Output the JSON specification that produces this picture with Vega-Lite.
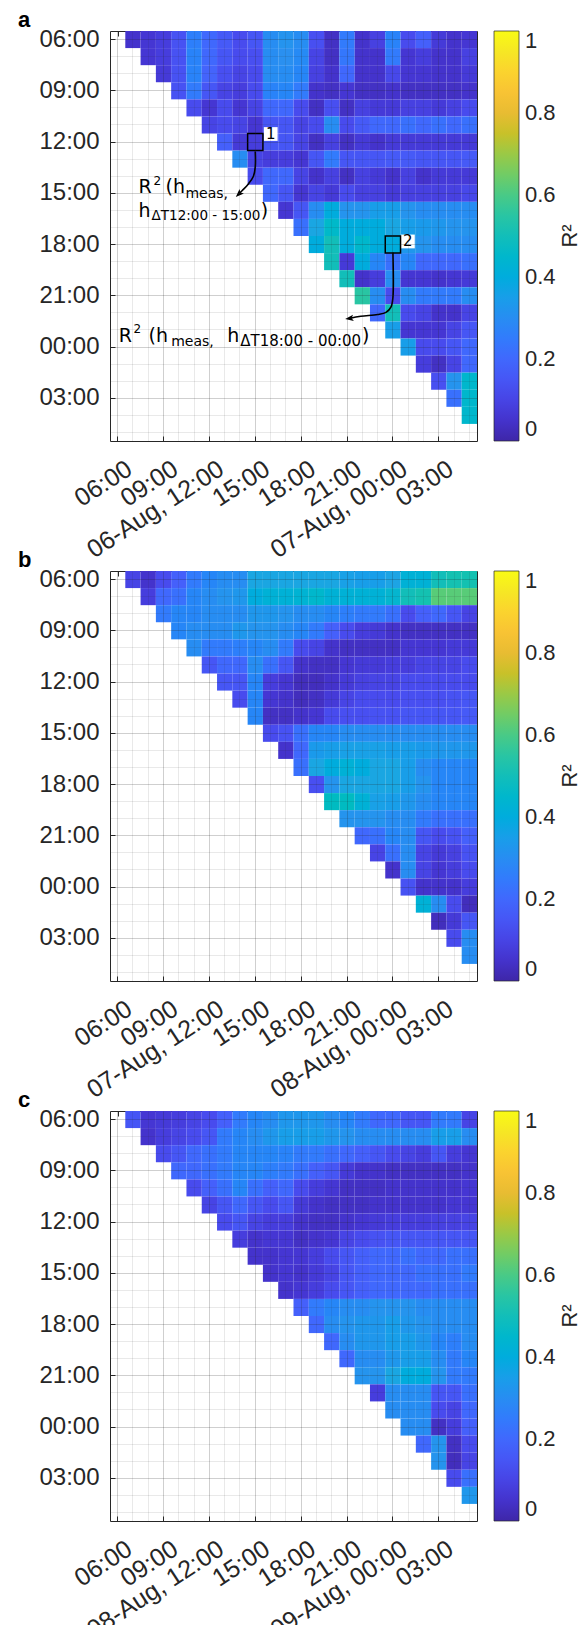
{
"$schema": "https://vega.github.io/schema/vega-lite/v6.json",
"padding": {"left": 17, "top": 8, "right": 4, "bottom": 2},
"background": "white",
"spacing": 130,
"bounds": "flush",
"config": {"font": "Liberation Sans", "view": {"stroke": "#262626", "strokeWidth": 1}, "legend": {"gradientThickness": 25, "gradientLength": 410}},
"resolve": {"scale": {"color": "independent"}, "legend": {"color": "independent"}},
"datasets": {
"a": [
{"s":0,"e":1,"r":0.05},{"s":0,"e":2,"r":0.06},{"s":0,"e":3,"r":0.08},{"s":0,"e":4,"r":0.14},{"s":0,"e":5,"r":0.26},{"s":0,"e":6,"r":0.2},{"s":0,"e":7,"r":0.16},{"s":0,"e":8,"r":0.12},{"s":0,"e":9,"r":0.15},{"s":0,"e":10,"r":0.3},{"s":0,"e":11,"r":0.32},{"s":0,"e":12,"r":0.3},{"s":0,"e":13,"r":0.13},{"s":0,"e":14,"r":0.04},{"s":0,"e":15,"r":0.25},{"s":0,"e":16,"r":0.05},{"s":0,"e":17,"r":0.09},{"s":0,"e":18,"r":0.27},{"s":0,"e":19,"r":0.12},{"s":0,"e":20,"r":0.18},{"s":0,"e":21,"r":0.07},{"s":0,"e":22,"r":0.05},{"s":0,"e":23,"r":0.06},
{"s":1,"e":2,"r":0.06},{"s":1,"e":3,"r":0.08},{"s":1,"e":4,"r":0.14},{"s":1,"e":5,"r":0.27},{"s":1,"e":6,"r":0.2},{"s":1,"e":7,"r":0.15},{"s":1,"e":8,"r":0.12},{"s":1,"e":9,"r":0.13},{"s":1,"e":10,"r":0.3},{"s":1,"e":11,"r":0.31},{"s":1,"e":12,"r":0.29},{"s":1,"e":13,"r":0.1},{"s":1,"e":14,"r":0.04},{"s":1,"e":15,"r":0.24},{"s":1,"e":16,"r":0.05},{"s":1,"e":17,"r":0.05},{"s":1,"e":18,"r":0.25},{"s":1,"e":19,"r":0.06},{"s":1,"e":20,"r":0.08},{"s":1,"e":21,"r":0.05},{"s":1,"e":22,"r":0.05},{"s":1,"e":23,"r":0.09},
{"s":2,"e":3,"r":0.07},{"s":2,"e":4,"r":0.14},{"s":2,"e":5,"r":0.27},{"s":2,"e":6,"r":0.19},{"s":2,"e":7,"r":0.13},{"s":2,"e":8,"r":0.1},{"s":2,"e":9,"r":0.12},{"s":2,"e":10,"r":0.3},{"s":2,"e":11,"r":0.3},{"s":2,"e":12,"r":0.28},{"s":2,"e":13,"r":0.09},{"s":2,"e":14,"r":0.05},{"s":2,"e":15,"r":0.2},{"s":2,"e":16,"r":0.05},{"s":2,"e":17,"r":0.05},{"s":2,"e":18,"r":0.11},{"s":2,"e":19,"r":0.06},{"s":2,"e":20,"r":0.06},{"s":2,"e":21,"r":0.05},{"s":2,"e":22,"r":0.05},{"s":2,"e":23,"r":0.07},
{"s":3,"e":4,"r":0.14},{"s":3,"e":5,"r":0.25},{"s":3,"e":6,"r":0.15},{"s":3,"e":7,"r":0.1},{"s":3,"e":8,"r":0.08},{"s":3,"e":9,"r":0.12},{"s":3,"e":10,"r":0.27},{"s":3,"e":11,"r":0.28},{"s":3,"e":12,"r":0.25},{"s":3,"e":13,"r":0.05},{"s":3,"e":14,"r":0.04},{"s":3,"e":15,"r":0.06},{"s":3,"e":16,"r":0.04},{"s":3,"e":17,"r":0.04},{"s":3,"e":18,"r":0.05},{"s":3,"e":19,"r":0.04},{"s":3,"e":20,"r":0.04},{"s":3,"e":21,"r":0.04},{"s":3,"e":22,"r":0.04},{"s":3,"e":23,"r":0.05},
{"s":4,"e":5,"r":0.12},{"s":4,"e":6,"r":0.06},{"s":4,"e":7,"r":0.12},{"s":4,"e":8,"r":0.06},{"s":4,"e":9,"r":0.1},{"s":4,"e":10,"r":0.2},{"s":4,"e":11,"r":0.2},{"s":4,"e":12,"r":0.12},{"s":4,"e":13,"r":0.04},{"s":4,"e":14,"r":0.13},{"s":4,"e":15,"r":0.04},{"s":4,"e":16,"r":0.09},{"s":4,"e":17,"r":0.07},{"s":4,"e":18,"r":0.07},{"s":4,"e":19,"r":0.09},{"s":4,"e":20,"r":0.09},{"s":4,"e":21,"r":0.07},{"s":4,"e":22,"r":0.09},{"s":4,"e":23,"r":0.12},
{"s":5,"e":6,"r":0.1},{"s":5,"e":7,"r":0.12},{"s":5,"e":8,"r":0.1},{"s":5,"e":9,"r":0.06},{"s":5,"e":10,"r":0.15},{"s":5,"e":11,"r":0.15},{"s":5,"e":12,"r":0.1},{"s":5,"e":13,"r":0.12},{"s":5,"e":14,"r":0.3},{"s":5,"e":15,"r":0.12},{"s":5,"e":16,"r":0.16},{"s":5,"e":17,"r":0.2},{"s":5,"e":18,"r":0.2},{"s":5,"e":19,"r":0.22},{"s":5,"e":20,"r":0.2},{"s":5,"e":21,"r":0.22},{"s":5,"e":22,"r":0.2},{"s":5,"e":23,"r":0.22},
{"s":6,"e":7,"r":0.18},{"s":6,"e":8,"r":0.07},{"s":6,"e":9,"r":0.08},{"s":6,"e":10,"r":0.15},{"s":6,"e":11,"r":0.15},{"s":6,"e":12,"r":0.1},{"s":6,"e":13,"r":0.04},{"s":6,"e":14,"r":0.09},{"s":6,"e":15,"r":0.04},{"s":6,"e":16,"r":0.07},{"s":6,"e":17,"r":0.05},{"s":6,"e":18,"r":0.07},{"s":6,"e":19,"r":0.07},{"s":6,"e":20,"r":0.07},{"s":6,"e":21,"r":0.07},{"s":6,"e":22,"r":0.07},{"s":6,"e":23,"r":0.07},
{"s":7,"e":8,"r":0.3},{"s":7,"e":9,"r":0.1},{"s":7,"e":10,"r":0.08},{"s":7,"e":11,"r":0.08},{"s":7,"e":12,"r":0.06},{"s":7,"e":13,"r":0.15},{"s":7,"e":14,"r":0.25},{"s":7,"e":15,"r":0.15},{"s":7,"e":16,"r":0.15},{"s":7,"e":17,"r":0.15},{"s":7,"e":18,"r":0.16},{"s":7,"e":19,"r":0.16},{"s":7,"e":20,"r":0.15},{"s":7,"e":21,"r":0.15},{"s":7,"e":22,"r":0.15},{"s":7,"e":23,"r":0.16},
{"s":8,"e":9,"r":0.12},{"s":8,"e":10,"r":0.2},{"s":8,"e":11,"r":0.2},{"s":8,"e":12,"r":0.1},{"s":8,"e":13,"r":0.05},{"s":8,"e":14,"r":0.09},{"s":8,"e":15,"r":0.04},{"s":8,"e":16,"r":0.09},{"s":8,"e":17,"r":0.07},{"s":8,"e":18,"r":0.05},{"s":8,"e":19,"r":0.09},{"s":8,"e":20,"r":0.05},{"s":8,"e":21,"r":0.07},{"s":8,"e":22,"r":0.07},{"s":8,"e":23,"r":0.07},
{"s":9,"e":10,"r":0.2},{"s":9,"e":11,"r":0.15},{"s":9,"e":12,"r":0.06},{"s":9,"e":13,"r":0.1},{"s":9,"e":14,"r":0.07},{"s":9,"e":15,"r":0.12},{"s":9,"e":16,"r":0.09},{"s":9,"e":17,"r":0.09},{"s":9,"e":18,"r":0.07},{"s":9,"e":19,"r":0.09},{"s":9,"e":20,"r":0.09},{"s":9,"e":21,"r":0.09},{"s":9,"e":22,"r":0.09},{"s":9,"e":23,"r":0.11},
{"s":10,"e":11,"r":0.06},{"s":10,"e":12,"r":0.15},{"s":10,"e":13,"r":0.3},{"s":10,"e":14,"r":0.4},{"s":10,"e":15,"r":0.32},{"s":10,"e":16,"r":0.32},{"s":10,"e":17,"r":0.35},{"s":10,"e":18,"r":0.35},{"s":10,"e":19,"r":0.32},{"s":10,"e":20,"r":0.3},{"s":10,"e":21,"r":0.3},{"s":10,"e":22,"r":0.3},{"s":10,"e":23,"r":0.3},
{"s":11,"e":12,"r":0.22},{"s":11,"e":13,"r":0.38},{"s":11,"e":14,"r":0.46},{"s":11,"e":15,"r":0.4},{"s":11,"e":16,"r":0.4},{"s":11,"e":17,"r":0.4},{"s":11,"e":18,"r":0.38},{"s":11,"e":19,"r":0.35},{"s":11,"e":20,"r":0.34},{"s":11,"e":21,"r":0.33},{"s":11,"e":22,"r":0.32},{"s":11,"e":23,"r":0.32},
{"s":12,"e":13,"r":0.4},{"s":12,"e":14,"r":0.5},{"s":12,"e":15,"r":0.4},{"s":12,"e":16,"r":0.45},{"s":12,"e":17,"r":0.4},{"s":12,"e":18,"r":0.4},{"s":12,"e":19,"r":0.33},{"s":12,"e":20,"r":0.32},{"s":12,"e":21,"r":0.3},{"s":12,"e":22,"r":0.3},{"s":12,"e":23,"r":0.3},
{"s":13,"e":14,"r":0.5},{"s":13,"e":15,"r":0.07},{"s":13,"e":16,"r":0.4},{"s":13,"e":17,"r":0.28},{"s":13,"e":18,"r":0.22},{"s":13,"e":19,"r":0.28},{"s":13,"e":20,"r":0.2},{"s":13,"e":21,"r":0.2},{"s":13,"e":22,"r":0.2},{"s":13,"e":23,"r":0.22},
{"s":14,"e":15,"r":0.5},{"s":14,"e":16,"r":0.05},{"s":14,"e":17,"r":0.08},{"s":14,"e":18,"r":0.3},{"s":14,"e":19,"r":0.06},{"s":14,"e":20,"r":0.06},{"s":14,"e":21,"r":0.05},{"s":14,"e":22,"r":0.06},{"s":14,"e":23,"r":0.07},
{"s":15,"e":16,"r":0.55},{"s":15,"e":17,"r":0.3},{"s":15,"e":18,"r":0.12},{"s":15,"e":19,"r":0.3},{"s":15,"e":20,"r":0.25},{"s":15,"e":21,"r":0.25},{"s":15,"e":22,"r":0.25},{"s":15,"e":23,"r":0.3},
{"s":16,"e":17,"r":0.2},{"s":16,"e":18,"r":0.5},{"s":16,"e":19,"r":0.12},{"s":16,"e":20,"r":0.1},{"s":16,"e":21,"r":0.05},{"s":16,"e":22,"r":0.05},{"s":16,"e":23,"r":0.1},
{"s":17,"e":18,"r":0.35},{"s":17,"e":19,"r":0.06},{"s":17,"e":20,"r":0.06},{"s":17,"e":21,"r":0.06},{"s":17,"e":22,"r":0.1},{"s":17,"e":23,"r":0.15},
{"s":18,"e":19,"r":0.35},{"s":18,"e":20,"r":0.12},{"s":18,"e":21,"r":0.12},{"s":18,"e":22,"r":0.15},{"s":18,"e":23,"r":0.2},
{"s":19,"e":20,"r":0.08},{"s":19,"e":21,"r":0.04},{"s":19,"e":22,"r":0.1},{"s":19,"e":23,"r":0.2},
{"s":20,"e":21,"r":0.13},{"s":20,"e":22,"r":0.32},{"s":20,"e":23,"r":0.45},
{"s":21,"e":22,"r":0.22},{"s":21,"e":23,"r":0.45},
{"s":22,"e":23,"r":0.45}
],
"b": [
{"s":0,"e":1,"r":0.1},{"s":0,"e":2,"r":0.05},{"s":0,"e":3,"r":0.12},{"s":0,"e":4,"r":0.18},{"s":0,"e":5,"r":0.25},{"s":0,"e":6,"r":0.28},{"s":0,"e":7,"r":0.3},{"s":0,"e":8,"r":0.3},{"s":0,"e":9,"r":0.38},{"s":0,"e":10,"r":0.38},{"s":0,"e":11,"r":0.38},{"s":0,"e":12,"r":0.38},{"s":0,"e":13,"r":0.38},{"s":0,"e":14,"r":0.38},{"s":0,"e":15,"r":0.36},{"s":0,"e":16,"r":0.35},{"s":0,"e":17,"r":0.35},{"s":0,"e":18,"r":0.37},{"s":0,"e":19,"r":0.42},{"s":0,"e":20,"r":0.42},{"s":0,"e":21,"r":0.5},{"s":0,"e":22,"r":0.52},{"s":0,"e":23,"r":0.52},
{"s":1,"e":2,"r":0.08},{"s":1,"e":3,"r":0.2},{"s":1,"e":4,"r":0.22},{"s":1,"e":5,"r":0.28},{"s":1,"e":6,"r":0.3},{"s":1,"e":7,"r":0.32},{"s":1,"e":8,"r":0.33},{"s":1,"e":9,"r":0.4},{"s":1,"e":10,"r":0.42},{"s":1,"e":11,"r":0.42},{"s":1,"e":12,"r":0.43},{"s":1,"e":13,"r":0.45},{"s":1,"e":14,"r":0.42},{"s":1,"e":15,"r":0.42},{"s":1,"e":16,"r":0.42},{"s":1,"e":17,"r":0.42},{"s":1,"e":18,"r":0.44},{"s":1,"e":19,"r":0.5},{"s":1,"e":20,"r":0.52},{"s":1,"e":21,"r":0.62},{"s":1,"e":22,"r":0.62},{"s":1,"e":23,"r":0.62},
{"s":2,"e":3,"r":0.25},{"s":2,"e":4,"r":0.28},{"s":2,"e":5,"r":0.28},{"s":2,"e":6,"r":0.3},{"s":2,"e":7,"r":0.3},{"s":2,"e":8,"r":0.3},{"s":2,"e":9,"r":0.33},{"s":2,"e":10,"r":0.33},{"s":2,"e":11,"r":0.32},{"s":2,"e":12,"r":0.3},{"s":2,"e":13,"r":0.3},{"s":2,"e":14,"r":0.28},{"s":2,"e":15,"r":0.26},{"s":2,"e":16,"r":0.25},{"s":2,"e":17,"r":0.25},{"s":2,"e":18,"r":0.22},{"s":2,"e":19,"r":0.12},{"s":2,"e":20,"r":0.18},{"s":2,"e":21,"r":0.2},{"s":2,"e":22,"r":0.15},{"s":2,"e":23,"r":0.1},
{"s":3,"e":4,"r":0.28},{"s":3,"e":5,"r":0.3},{"s":3,"e":6,"r":0.3},{"s":3,"e":7,"r":0.3},{"s":3,"e":8,"r":0.33},{"s":3,"e":9,"r":0.32},{"s":3,"e":10,"r":0.32},{"s":3,"e":11,"r":0.3},{"s":3,"e":12,"r":0.28},{"s":3,"e":13,"r":0.25},{"s":3,"e":14,"r":0.18},{"s":3,"e":15,"r":0.12},{"s":3,"e":16,"r":0.08},{"s":3,"e":17,"r":0.07},{"s":3,"e":18,"r":0.05},{"s":3,"e":19,"r":0.04},{"s":3,"e":20,"r":0.04},{"s":3,"e":21,"r":0.04},{"s":3,"e":22,"r":0.04},{"s":3,"e":23,"r":0.04},
{"s":4,"e":5,"r":0.3},{"s":4,"e":6,"r":0.25},{"s":4,"e":7,"r":0.25},{"s":4,"e":8,"r":0.26},{"s":4,"e":9,"r":0.28},{"s":4,"e":10,"r":0.3},{"s":4,"e":11,"r":0.25},{"s":4,"e":12,"r":0.12},{"s":4,"e":13,"r":0.1},{"s":4,"e":14,"r":0.05},{"s":4,"e":15,"r":0.04},{"s":4,"e":16,"r":0.04},{"s":4,"e":17,"r":0.04},{"s":4,"e":18,"r":0.04},{"s":4,"e":19,"r":0.06},{"s":4,"e":20,"r":0.06},{"s":4,"e":21,"r":0.06},{"s":4,"e":22,"r":0.07},{"s":4,"e":23,"r":0.07},
{"s":5,"e":6,"r":0.15},{"s":5,"e":7,"r":0.2},{"s":5,"e":8,"r":0.2},{"s":5,"e":9,"r":0.3},{"s":5,"e":10,"r":0.22},{"s":5,"e":11,"r":0.15},{"s":5,"e":12,"r":0.05},{"s":5,"e":13,"r":0.04},{"s":5,"e":14,"r":0.04},{"s":5,"e":15,"r":0.06},{"s":5,"e":16,"r":0.07},{"s":5,"e":17,"r":0.07},{"s":5,"e":18,"r":0.08},{"s":5,"e":19,"r":0.08},{"s":5,"e":20,"r":0.1},{"s":5,"e":21,"r":0.1},{"s":5,"e":22,"r":0.1},{"s":5,"e":23,"r":0.12},
{"s":6,"e":7,"r":0.15},{"s":6,"e":8,"r":0.15},{"s":6,"e":9,"r":0.28},{"s":6,"e":10,"r":0.08},{"s":6,"e":11,"r":0.06},{"s":6,"e":12,"r":0.03},{"s":6,"e":13,"r":0.03},{"s":6,"e":14,"r":0.05},{"s":6,"e":15,"r":0.07},{"s":6,"e":16,"r":0.09},{"s":6,"e":17,"r":0.1},{"s":6,"e":18,"r":0.1},{"s":6,"e":19,"r":0.12},{"s":6,"e":20,"r":0.12},{"s":6,"e":21,"r":0.12},{"s":6,"e":22,"r":0.12},{"s":6,"e":23,"r":0.12},
{"s":7,"e":8,"r":0.12},{"s":7,"e":9,"r":0.28},{"s":7,"e":10,"r":0.06},{"s":7,"e":11,"r":0.05},{"s":7,"e":12,"r":0.03},{"s":7,"e":13,"r":0.04},{"s":7,"e":14,"r":0.07},{"s":7,"e":15,"r":0.1},{"s":7,"e":16,"r":0.12},{"s":7,"e":17,"r":0.12},{"s":7,"e":18,"r":0.12},{"s":7,"e":19,"r":0.13},{"s":7,"e":20,"r":0.13},{"s":7,"e":21,"r":0.13},{"s":7,"e":22,"r":0.14},{"s":7,"e":23,"r":0.15},
{"s":8,"e":9,"r":0.28},{"s":8,"e":10,"r":0.04},{"s":8,"e":11,"r":0.04},{"s":8,"e":12,"r":0.05},{"s":8,"e":13,"r":0.06},{"s":8,"e":14,"r":0.12},{"s":8,"e":15,"r":0.13},{"s":8,"e":16,"r":0.13},{"s":8,"e":17,"r":0.14},{"s":8,"e":18,"r":0.14},{"s":8,"e":19,"r":0.15},{"s":8,"e":20,"r":0.15},{"s":8,"e":21,"r":0.15},{"s":8,"e":22,"r":0.15},{"s":8,"e":23,"r":0.16},
{"s":9,"e":10,"r":0.12},{"s":9,"e":11,"r":0.14},{"s":9,"e":12,"r":0.22},{"s":9,"e":13,"r":0.28},{"s":9,"e":14,"r":0.28},{"s":9,"e":15,"r":0.3},{"s":9,"e":16,"r":0.3},{"s":9,"e":17,"r":0.3},{"s":9,"e":18,"r":0.3},{"s":9,"e":19,"r":0.3},{"s":9,"e":20,"r":0.3},{"s":9,"e":21,"r":0.3},{"s":9,"e":22,"r":0.3},{"s":9,"e":23,"r":0.3},
{"s":10,"e":11,"r":0.05},{"s":10,"e":12,"r":0.2},{"s":10,"e":13,"r":0.34},{"s":10,"e":14,"r":0.35},{"s":10,"e":15,"r":0.36},{"s":10,"e":16,"r":0.36},{"s":10,"e":17,"r":0.36},{"s":10,"e":18,"r":0.35},{"s":10,"e":19,"r":0.35},{"s":10,"e":20,"r":0.34},{"s":10,"e":21,"r":0.33},{"s":10,"e":22,"r":0.33},{"s":10,"e":23,"r":0.33},
{"s":11,"e":12,"r":0.22},{"s":11,"e":13,"r":0.38},{"s":11,"e":14,"r":0.4},{"s":11,"e":15,"r":0.42},{"s":11,"e":16,"r":0.4},{"s":11,"e":17,"r":0.38},{"s":11,"e":18,"r":0.38},{"s":11,"e":19,"r":0.35},{"s":11,"e":20,"r":0.3},{"s":11,"e":21,"r":0.28},{"s":11,"e":22,"r":0.28},{"s":11,"e":23,"r":0.28},
{"s":12,"e":13,"r":0.13},{"s":12,"e":14,"r":0.32},{"s":12,"e":15,"r":0.38},{"s":12,"e":16,"r":0.38},{"s":12,"e":17,"r":0.38},{"s":12,"e":18,"r":0.38},{"s":12,"e":19,"r":0.35},{"s":12,"e":20,"r":0.32},{"s":12,"e":21,"r":0.28},{"s":12,"e":22,"r":0.28},{"s":12,"e":23,"r":0.28},
{"s":13,"e":14,"r":0.48},{"s":13,"e":15,"r":0.48},{"s":13,"e":16,"r":0.42},{"s":13,"e":17,"r":0.36},{"s":13,"e":18,"r":0.35},{"s":13,"e":19,"r":0.33},{"s":13,"e":20,"r":0.3},{"s":13,"e":21,"r":0.28},{"s":13,"e":22,"r":0.28},{"s":13,"e":23,"r":0.28},
{"s":14,"e":15,"r":0.32},{"s":14,"e":16,"r":0.32},{"s":14,"e":17,"r":0.32},{"s":14,"e":18,"r":0.3},{"s":14,"e":19,"r":0.3},{"s":14,"e":20,"r":0.25},{"s":14,"e":21,"r":0.22},{"s":14,"e":22,"r":0.22},{"s":14,"e":23,"r":0.22},
{"s":15,"e":16,"r":0.2},{"s":15,"e":17,"r":0.22},{"s":15,"e":18,"r":0.28},{"s":15,"e":19,"r":0.3},{"s":15,"e":20,"r":0.15},{"s":15,"e":21,"r":0.12},{"s":15,"e":22,"r":0.14},{"s":15,"e":23,"r":0.18},
{"s":16,"e":17,"r":0.1},{"s":16,"e":18,"r":0.22},{"s":16,"e":19,"r":0.3},{"s":16,"e":20,"r":0.1},{"s":16,"e":21,"r":0.07},{"s":16,"e":22,"r":0.09},{"s":16,"e":23,"r":0.14},
{"s":17,"e":18,"r":0.05},{"s":17,"e":19,"r":0.3},{"s":17,"e":20,"r":0.1},{"s":17,"e":21,"r":0.06},{"s":17,"e":22,"r":0.08},{"s":17,"e":23,"r":0.12},
{"s":18,"e":19,"r":0.14},{"s":18,"e":20,"r":0.05},{"s":18,"e":21,"r":0.05},{"s":18,"e":22,"r":0.05},{"s":18,"e":23,"r":0.08},
{"s":19,"e":20,"r":0.42},{"s":19,"e":21,"r":0.3},{"s":19,"e":22,"r":0.12},{"s":19,"e":23,"r":0.03},
{"s":20,"e":21,"r":0.03},{"s":20,"e":22,"r":0.07},{"s":20,"e":23,"r":0.15},
{"s":21,"e":22,"r":0.12},{"s":21,"e":23,"r":0.3},
{"s":22,"e":23,"r":0.3}
],
"c": [
{"s":0,"e":1,"r":0.15},{"s":0,"e":2,"r":0.06},{"s":0,"e":3,"r":0.07},{"s":0,"e":4,"r":0.08},{"s":0,"e":5,"r":0.1},{"s":0,"e":6,"r":0.12},{"s":0,"e":7,"r":0.18},{"s":0,"e":8,"r":0.25},{"s":0,"e":9,"r":0.28},{"s":0,"e":10,"r":0.3},{"s":0,"e":11,"r":0.33},{"s":0,"e":12,"r":0.33},{"s":0,"e":13,"r":0.33},{"s":0,"e":14,"r":0.3},{"s":0,"e":15,"r":0.28},{"s":0,"e":16,"r":0.25},{"s":0,"e":17,"r":0.2},{"s":0,"e":18,"r":0.2},{"s":0,"e":19,"r":0.15},{"s":0,"e":20,"r":0.15},{"s":0,"e":21,"r":0.25},{"s":0,"e":22,"r":0.25},{"s":0,"e":23,"r":0.1},
{"s":1,"e":2,"r":0.05},{"s":1,"e":3,"r":0.08},{"s":1,"e":4,"r":0.1},{"s":1,"e":5,"r":0.12},{"s":1,"e":6,"r":0.15},{"s":1,"e":7,"r":0.25},{"s":1,"e":8,"r":0.28},{"s":1,"e":9,"r":0.3},{"s":1,"e":10,"r":0.33},{"s":1,"e":11,"r":0.35},{"s":1,"e":12,"r":0.35},{"s":1,"e":13,"r":0.35},{"s":1,"e":14,"r":0.33},{"s":1,"e":15,"r":0.32},{"s":1,"e":16,"r":0.3},{"s":1,"e":17,"r":0.3},{"s":1,"e":18,"r":0.3},{"s":1,"e":19,"r":0.3},{"s":1,"e":20,"r":0.3},{"s":1,"e":21,"r":0.35},{"s":1,"e":22,"r":0.35},{"s":1,"e":23,"r":0.3},
{"s":2,"e":3,"r":0.12},{"s":2,"e":4,"r":0.15},{"s":2,"e":5,"r":0.2},{"s":2,"e":6,"r":0.22},{"s":2,"e":7,"r":0.25},{"s":2,"e":8,"r":0.28},{"s":2,"e":9,"r":0.28},{"s":2,"e":10,"r":0.28},{"s":2,"e":11,"r":0.27},{"s":2,"e":12,"r":0.25},{"s":2,"e":13,"r":0.25},{"s":2,"e":14,"r":0.22},{"s":2,"e":15,"r":0.2},{"s":2,"e":16,"r":0.18},{"s":2,"e":17,"r":0.15},{"s":2,"e":18,"r":0.12},{"s":2,"e":19,"r":0.1},{"s":2,"e":20,"r":0.08},{"s":2,"e":21,"r":0.15},{"s":2,"e":22,"r":0.08},{"s":2,"e":23,"r":0.06},
{"s":3,"e":4,"r":0.2},{"s":3,"e":5,"r":0.2},{"s":3,"e":6,"r":0.22},{"s":3,"e":7,"r":0.25},{"s":3,"e":8,"r":0.28},{"s":3,"e":9,"r":0.28},{"s":3,"e":10,"r":0.26},{"s":3,"e":11,"r":0.25},{"s":3,"e":12,"r":0.22},{"s":3,"e":13,"r":0.18},{"s":3,"e":14,"r":0.15},{"s":3,"e":15,"r":0.07},{"s":3,"e":16,"r":0.05},{"s":3,"e":17,"r":0.05},{"s":3,"e":18,"r":0.04},{"s":3,"e":19,"r":0.04},{"s":3,"e":20,"r":0.04},{"s":3,"e":21,"r":0.04},{"s":3,"e":22,"r":0.04},{"s":3,"e":23,"r":0.05},
{"s":4,"e":5,"r":0.12},{"s":4,"e":6,"r":0.18},{"s":4,"e":7,"r":0.22},{"s":4,"e":8,"r":0.28},{"s":4,"e":9,"r":0.22},{"s":4,"e":10,"r":0.18},{"s":4,"e":11,"r":0.2},{"s":4,"e":12,"r":0.12},{"s":4,"e":13,"r":0.08},{"s":4,"e":14,"r":0.06},{"s":4,"e":15,"r":0.04},{"s":4,"e":16,"r":0.04},{"s":4,"e":17,"r":0.04},{"s":4,"e":18,"r":0.05},{"s":4,"e":19,"r":0.05},{"s":4,"e":20,"r":0.05},{"s":4,"e":21,"r":0.05},{"s":4,"e":22,"r":0.05},{"s":4,"e":23,"r":0.06},
{"s":5,"e":6,"r":0.1},{"s":5,"e":7,"r":0.15},{"s":5,"e":8,"r":0.2},{"s":5,"e":9,"r":0.15},{"s":5,"e":10,"r":0.12},{"s":5,"e":11,"r":0.15},{"s":5,"e":12,"r":0.07},{"s":5,"e":13,"r":0.05},{"s":5,"e":14,"r":0.04},{"s":5,"e":15,"r":0.04},{"s":5,"e":16,"r":0.04},{"s":5,"e":17,"r":0.05},{"s":5,"e":18,"r":0.05},{"s":5,"e":19,"r":0.05},{"s":5,"e":20,"r":0.05},{"s":5,"e":21,"r":0.05},{"s":5,"e":22,"r":0.06},{"s":5,"e":23,"r":0.06},
{"s":6,"e":7,"r":0.12},{"s":6,"e":8,"r":0.15},{"s":6,"e":9,"r":0.1},{"s":6,"e":10,"r":0.08},{"s":6,"e":11,"r":0.08},{"s":6,"e":12,"r":0.05},{"s":6,"e":13,"r":0.04},{"s":6,"e":14,"r":0.04},{"s":6,"e":15,"r":0.05},{"s":6,"e":16,"r":0.06},{"s":6,"e":17,"r":0.07},{"s":6,"e":18,"r":0.08},{"s":6,"e":19,"r":0.08},{"s":6,"e":20,"r":0.08},{"s":6,"e":21,"r":0.09},{"s":6,"e":22,"r":0.09},{"s":6,"e":23,"r":0.1},
{"s":7,"e":8,"r":0.08},{"s":7,"e":9,"r":0.05},{"s":7,"e":10,"r":0.06},{"s":7,"e":11,"r":0.06},{"s":7,"e":12,"r":0.04},{"s":7,"e":13,"r":0.05},{"s":7,"e":14,"r":0.06},{"s":7,"e":15,"r":0.1},{"s":7,"e":16,"r":0.12},{"s":7,"e":17,"r":0.14},{"s":7,"e":18,"r":0.15},{"s":7,"e":19,"r":0.15},{"s":7,"e":20,"r":0.15},{"s":7,"e":21,"r":0.15},{"s":7,"e":22,"r":0.15},{"s":7,"e":23,"r":0.15},
{"s":8,"e":9,"r":0.05},{"s":8,"e":10,"r":0.05},{"s":8,"e":11,"r":0.06},{"s":8,"e":12,"r":0.06},{"s":8,"e":13,"r":0.08},{"s":8,"e":14,"r":0.12},{"s":8,"e":15,"r":0.15},{"s":8,"e":16,"r":0.18},{"s":8,"e":17,"r":0.2},{"s":8,"e":18,"r":0.2},{"s":8,"e":19,"r":0.22},{"s":8,"e":20,"r":0.2},{"s":8,"e":21,"r":0.2},{"s":8,"e":22,"r":0.22},{"s":8,"e":23,"r":0.22},
{"s":9,"e":10,"r":0.05},{"s":9,"e":11,"r":0.06},{"s":9,"e":12,"r":0.05},{"s":9,"e":13,"r":0.07},{"s":9,"e":14,"r":0.1},{"s":9,"e":15,"r":0.15},{"s":9,"e":16,"r":0.18},{"s":9,"e":17,"r":0.2},{"s":9,"e":18,"r":0.2},{"s":9,"e":19,"r":0.2},{"s":9,"e":20,"r":0.22},{"s":9,"e":21,"r":0.22},{"s":9,"e":22,"r":0.22},{"s":9,"e":23,"r":0.25},
{"s":10,"e":11,"r":0.05},{"s":10,"e":12,"r":0.06},{"s":10,"e":13,"r":0.08},{"s":10,"e":14,"r":0.12},{"s":10,"e":15,"r":0.15},{"s":10,"e":16,"r":0.18},{"s":10,"e":17,"r":0.2},{"s":10,"e":18,"r":0.2},{"s":10,"e":19,"r":0.2},{"s":10,"e":20,"r":0.2},{"s":10,"e":21,"r":0.22},{"s":10,"e":22,"r":0.22},{"s":10,"e":23,"r":0.22},
{"s":11,"e":12,"r":0.18},{"s":11,"e":13,"r":0.25},{"s":11,"e":14,"r":0.28},{"s":11,"e":15,"r":0.3},{"s":11,"e":16,"r":0.3},{"s":11,"e":17,"r":0.32},{"s":11,"e":18,"r":0.32},{"s":11,"e":19,"r":0.32},{"s":11,"e":20,"r":0.3},{"s":11,"e":21,"r":0.3},{"s":11,"e":22,"r":0.3},{"s":11,"e":23,"r":0.3},
{"s":12,"e":13,"r":0.2},{"s":12,"e":14,"r":0.3},{"s":12,"e":15,"r":0.32},{"s":12,"e":16,"r":0.33},{"s":12,"e":17,"r":0.33},{"s":12,"e":18,"r":0.35},{"s":12,"e":19,"r":0.33},{"s":12,"e":20,"r":0.32},{"s":12,"e":21,"r":0.3},{"s":12,"e":22,"r":0.3},{"s":12,"e":23,"r":0.3},
{"s":13,"e":14,"r":0.2},{"s":13,"e":15,"r":0.3},{"s":13,"e":16,"r":0.33},{"s":13,"e":17,"r":0.33},{"s":13,"e":18,"r":0.35},{"s":13,"e":19,"r":0.35},{"s":13,"e":20,"r":0.33},{"s":13,"e":21,"r":0.28},{"s":13,"e":22,"r":0.26},{"s":13,"e":23,"r":0.3},
{"s":14,"e":15,"r":0.2},{"s":14,"e":16,"r":0.3},{"s":14,"e":17,"r":0.3},{"s":14,"e":18,"r":0.33},{"s":14,"e":19,"r":0.35},{"s":14,"e":20,"r":0.35},{"s":14,"e":21,"r":0.3},{"s":14,"e":22,"r":0.25},{"s":14,"e":23,"r":0.28},
{"s":15,"e":16,"r":0.32},{"s":15,"e":17,"r":0.32},{"s":15,"e":18,"r":0.38},{"s":15,"e":19,"r":0.4},{"s":15,"e":20,"r":0.4},{"s":15,"e":21,"r":0.32},{"s":15,"e":22,"r":0.25},{"s":15,"e":23,"r":0.25},
{"s":16,"e":17,"r":0.08},{"s":16,"e":18,"r":0.3},{"s":16,"e":19,"r":0.3},{"s":16,"e":20,"r":0.3},{"s":16,"e":21,"r":0.15},{"s":16,"e":22,"r":0.15},{"s":16,"e":23,"r":0.22},
{"s":17,"e":18,"r":0.3},{"s":17,"e":19,"r":0.3},{"s":17,"e":20,"r":0.3},{"s":17,"e":21,"r":0.12},{"s":17,"e":22,"r":0.1},{"s":17,"e":23,"r":0.2},
{"s":18,"e":19,"r":0.3},{"s":18,"e":20,"r":0.3},{"s":18,"e":21,"r":0.04},{"s":18,"e":22,"r":0.08},{"s":18,"e":23,"r":0.18},
{"s":19,"e":20,"r":0.2},{"s":19,"e":21,"r":0.32},{"s":19,"e":22,"r":0.04},{"s":19,"e":23,"r":0.12},
{"s":20,"e":21,"r":0.32},{"s":20,"e":22,"r":0.03},{"s":20,"e":23,"r":0.1},
{"s":21,"e":22,"r":0.12},{"s":21,"e":23,"r":0.22},
{"s":22,"e":23,"r":0.33}
]
},
"vconcat": [
{
"width": 367, "height": 410,
"title": {"text": "a", "anchor": "start", "frame": "bounds", "dx": -21, "offset": -5, "fontSize": 22, "fontWeight": "bold", "font": "Liberation Sans", "color": "black"},
"resolve": {"scale": {"x": "independent", "y": "independent"}},
"layer": [
{
"data": {"name": "a"},
"mark": {"type": "rect"},
"encoding": {
"x": {"field": "e", "type": "ordinal", "scale": {"domain": [0,1,2,3,4,5,6,7,8,9,10,11,12,13,14,15,16,17,18,19,20,21,22,23], "paddingInner": 0, "paddingOuter": 0},
 "axis": {"title": null, "domain": false, "bandPosition": 0.5, "grid": true, "gridColor": "#262626", "gridOpacity": {"condition": {"test": "datum.value % 3 === 0", "value": 0.22}, "value": 0.1}, "ticks": true, "tickSize": -5, "tickColor": "#262626", "tickOpacity": {"condition": {"test": "datum.value % 3 === 0", "value": 1}, "value": 0}, "labelExpr": "datum.value % 3 === 0 ? ['06:00','09:00','06-Aug, 12:00','15:00','18:00','21:00','07-Aug, 00:00','03:00'][datum.value / 3] : ''", "labelAngle": -33, "labelAlign": "right", "labelBaseline": "middle", "labelOffset": 12, "labelPadding": 30, "labelFontSize": 25, "labelFont": "Liberation Sans", "labelColor": "#262626", "labelOverlap": false, "labelFlush": false, "zindex": 1}},
"y": {"field": "s", "type": "ordinal", "scale": {"domain": [0,1,2,3,4,5,6,7,8,9,10,11,12,13,14,15,16,17,18,19,20,21,22,23], "paddingInner": 0, "paddingOuter": 0},
 "axis": {"title": null, "domain": false, "bandPosition": 0.5, "grid": true, "gridColor": "#262626", "gridOpacity": {"condition": {"test": "datum.value % 3 === 0", "value": 0.22}, "value": 0.1}, "ticks": true, "tickSize": -5, "tickColor": "#262626", "tickOpacity": {"condition": {"test": "datum.value % 3 === 0", "value": 1}, "value": 0}, "labelExpr": "datum.value % 3 === 0 ? ['06:00','09:00','12:00','15:00','18:00','21:00','00:00','03:00'][datum.value / 3] : ''", "labelPadding": 16, "labelFontSize": 24, "labelFont": "Liberation Sans", "labelColor": "#262626", "labelOverlap": false, "zindex": 1}},
"color": {"field": "r", "type": "quantitative", "scale": {"domain": [0, 1], "range": ["#3E26A8","#4537D5","#484DF0","#4563FC","#327BFC","#2B91EF","#20A5E3","#08B5D0","#12BEB9","#33C79C","#5CCC75","#8FCA4E","#C8C129","#F0BA36","#FDC933","#F5E227","#F9FB15"]},
 "legend": {"title": "R²", "orient": "right", "direction": "vertical", "gradientLength": 410, "gradientThickness": 25, "values": [0,0.2,0.4,0.6,0.8,1], "format": ".1~f", "labelFontSize": 22, "labelFont": "Liberation Sans", "labelColor": "#262626", "labelOffset": 6, "labelBaseline": "middle", "titleFontSize": 22, "titleFont": "Liberation Sans", "titleFontWeight": "normal", "titleColor": "#262626", "titleOrient": "right", "titleAnchor": "middle", "titlePadding": 4, "offset": 16, "gradientStrokeColor": "#262626", "gradientStrokeWidth": 0.7, "padding": 0, "encode": {"title": {"update": {"angle": {"value": -90}, "baseline": {"value": "top"}}}}}}
}
},
{
"layer": [
{
"data": {"name": "a"},
"mark": {"type": "point", "opacity": 0},
"encoding": {
"x": {"field": "e", "type": "quantitative", "scale": {"domain": [-0.5, 23.5], "nice": false, "zero": false}, "axis": {"orient": "top", "values": [0,3,6,9,12,15,18,21], "labels": false, "grid": false, "domain": false, "ticks": true, "tickSize": -5, "tickColor": "#262626", "title": null}},
"y": {"field": "s", "type": "quantitative", "scale": {"domain": [-0.5, 23.5], "nice": false, "zero": false, "reverse": true}, "axis": {"orient": "right", "values": [0,3,6,9,12,15,18,21], "labels": false, "grid": false, "domain": false, "ticks": true, "tickSize": -5, "tickColor": "#262626", "title": null}}
}
},
{
"data": {"values": [{"id":1,"i":0,"x":9.0,"y":6.55},{"id":1,"i":1,"x":9.0,"y":7.45},{"id":1,"i":2,"x":8.88,"y":8.0},{"id":1,"i":3,"x":8.55,"y":8.45},{"id":1,"i":4,"x":8.15,"y":8.84},{"id":1,"i":5,"x":7.92,"y":9.05},{"id":2,"i":0,"x":18.0,"y":12.47},{"id":2,"i":1,"x":18.0,"y":15.1},{"id":2,"i":2,"x":17.88,"y":15.65},{"id":2,"i":3,"x":17.55,"y":15.97},{"id":2,"i":4,"x":17.0,"y":16.1},{"id":2,"i":5,"x":15.9,"y":16.2},{"id":2,"i":6,"x":15.15,"y":16.33}]},
"mark": {"type": "line", "color": "black", "strokeWidth": 1.6, "interpolate": "catmull-rom"},
"encoding": {"x": {"field": "x", "type": "quantitative"}, "y": {"field": "y", "type": "quantitative"}, "detail": {"field": "id"}, "order": {"field": "i"}}
},
{
"data": {"values": [{"x":7.92,"y":9.05,"a":225},{"x":15.15,"y":16.33,"a":262}]},
"mark": {"type": "point", "filled": true, "color": "black", "opacity": 1, "size": 70, "shape": "M0,-1L0.75,1L0,0.55L-0.75,1Z"},
"encoding": {"x": {"field": "x", "type": "quantitative"}, "y": {"field": "y", "type": "quantitative"}, "angle": {"field": "a", "type": "quantitative", "scale": null}}
},
{
"data": {"values": [{"x":10.01,"y":5.53},{"x":18.98,"y":11.82}]},
"mark": {"type": "square", "filled": true, "color": "white", "opacity": 1, "size": 190},
"encoding": {"x": {"field": "x", "type": "quantitative"}, "y": {"field": "y", "type": "quantitative"}}
},
{
"data": {"values": [{"t":"1","x":10.01,"y":5.53},{"t":"2","x":18.98,"y":11.82}]},
"mark": {"type": "text", "font": "DejaVu Sans", "fontSize": 15, "color": "black", "align": "center", "baseline": "middle"},
"encoding": {"x": {"field": "x", "type": "quantitative"}, "y": {"field": "y", "type": "quantitative"}, "text": {"field": "t"}}
},
{
"data": {"values": [{"t":"R","x":1.37,"y":9.01},{"t":"(h","x":3.13,"y":9.01},{"t":"h","x":1.37,"y":10.36},{"t":")","x":9.36,"y":10.36},{"t":"R","x":0.07,"y":17.68},{"t":"(h","x":2.02,"y":17.68},{"t":"h","x":7.17,"y":17.68},{"t":")","x":15.98,"y":17.68}]},
"mark": {"type": "text", "font": "DejaVu Sans", "fontSize": 19, "color": "black", "align": "left", "baseline": "alphabetic"},
"encoding": {"x": {"field": "x", "type": "quantitative"}, "y": {"field": "y", "type": "quantitative"}, "text": {"field": "t"}}
},
{
"data": {"values": [{"t":"2","x":2.35,"y":8.54},{"t":"2","x":1.04,"y":17.15}]},
"mark": {"type": "text", "font": "DejaVu Sans", "fontSize": 12, "color": "black", "align": "left", "baseline": "alphabetic"},
"encoding": {"x": {"field": "x", "type": "quantitative"}, "y": {"field": "y", "type": "quantitative"}, "text": {"field": "t"}}
},
{
"data": {"values": [{"t":"meas,","x":4.43,"y":9.25},{"t":"meas,","x":3.5,"y":17.91}]},
"mark": {"type": "text", "font": "DejaVu Sans", "fontSize": 14, "color": "black", "align": "left", "baseline": "alphabetic"},
"encoding": {"x": {"field": "x", "type": "quantitative"}, "y": {"field": "y", "type": "quantitative"}, "text": {"field": "t"}}
},
{
"data": {"values": [{"t":"ΔT12:00 - 15:00","x":2.22,"y":10.59}]},
"mark": {"type": "text", "font": "DejaVu Sans", "fontSize": 13.5, "color": "black", "align": "left", "baseline": "alphabetic"},
"encoding": {"x": {"field": "x", "type": "quantitative"}, "y": {"field": "y", "type": "quantitative"}, "text": {"field": "t"}}
},
{
"data": {"values": [{"t":"ΔT18:00 - 00:00","x":8.02,"y":17.91}]},
"mark": {"type": "text", "font": "DejaVu Sans", "fontSize": 15, "color": "black", "align": "left", "baseline": "alphabetic"},
"encoding": {"x": {"field": "x", "type": "quantitative"}, "y": {"field": "y", "type": "quantitative"}, "text": {"field": "t"}}
}
]
},
{
"data": {"values": [{"e":9,"s":6},{"e":18,"s":12}]},
"mark": {"type": "rect", "fillOpacity": 0, "stroke": "black", "strokeWidth": 1.5},
"encoding": {
"x": {"field": "e", "type": "ordinal", "scale": {"domain": [0,1,2,3,4,5,6,7,8,9,10,11,12,13,14,15,16,17,18,19,20,21,22,23], "paddingInner": 0, "paddingOuter": 0}, "axis": null},
"y": {"field": "s", "type": "ordinal", "scale": {"domain": [0,1,2,3,4,5,6,7,8,9,10,11,12,13,14,15,16,17,18,19,20,21,22,23], "paddingInner": 0, "paddingOuter": 0}, "axis": null}
}
}
]
},
{
"width": 367, "height": 410,
"title": {"text": "b", "anchor": "start", "frame": "bounds", "dx": -21, "offset": -5, "fontSize": 22, "fontWeight": "bold", "font": "Liberation Sans", "color": "black"},
"resolve": {"scale": {"x": "independent", "y": "independent"}},
"layer": [
{
"data": {"name": "b"},
"mark": {"type": "rect"},
"encoding": {
"x": {"field": "e", "type": "ordinal", "scale": {"domain": [0,1,2,3,4,5,6,7,8,9,10,11,12,13,14,15,16,17,18,19,20,21,22,23], "paddingInner": 0, "paddingOuter": 0},
 "axis": {"title": null, "domain": false, "bandPosition": 0.5, "grid": true, "gridColor": "#262626", "gridOpacity": {"condition": {"test": "datum.value % 3 === 0", "value": 0.22}, "value": 0.1}, "ticks": true, "tickSize": -5, "tickColor": "#262626", "tickOpacity": {"condition": {"test": "datum.value % 3 === 0", "value": 1}, "value": 0}, "labelExpr": "datum.value % 3 === 0 ? ['06:00','09:00','07-Aug, 12:00','15:00','18:00','21:00','08-Aug, 00:00','03:00'][datum.value / 3] : ''", "labelAngle": -33, "labelAlign": "right", "labelBaseline": "middle", "labelOffset": 12, "labelPadding": 30, "labelFontSize": 25, "labelFont": "Liberation Sans", "labelColor": "#262626", "labelOverlap": false, "labelFlush": false, "zindex": 1}},
"y": {"field": "s", "type": "ordinal", "scale": {"domain": [0,1,2,3,4,5,6,7,8,9,10,11,12,13,14,15,16,17,18,19,20,21,22,23], "paddingInner": 0, "paddingOuter": 0},
 "axis": {"title": null, "domain": false, "bandPosition": 0.5, "grid": true, "gridColor": "#262626", "gridOpacity": {"condition": {"test": "datum.value % 3 === 0", "value": 0.22}, "value": 0.1}, "ticks": true, "tickSize": -5, "tickColor": "#262626", "tickOpacity": {"condition": {"test": "datum.value % 3 === 0", "value": 1}, "value": 0}, "labelExpr": "datum.value % 3 === 0 ? ['06:00','09:00','12:00','15:00','18:00','21:00','00:00','03:00'][datum.value / 3] : ''", "labelPadding": 16, "labelFontSize": 24, "labelFont": "Liberation Sans", "labelColor": "#262626", "labelOverlap": false, "zindex": 1}},
"color": {"field": "r", "type": "quantitative", "scale": {"domain": [0, 1], "range": ["#3E26A8","#4537D5","#484DF0","#4563FC","#327BFC","#2B91EF","#20A5E3","#08B5D0","#12BEB9","#33C79C","#5CCC75","#8FCA4E","#C8C129","#F0BA36","#FDC933","#F5E227","#F9FB15"]},
 "legend": {"title": "R²", "orient": "right", "direction": "vertical", "gradientLength": 410, "gradientThickness": 25, "values": [0,0.2,0.4,0.6,0.8,1], "format": ".1~f", "labelFontSize": 22, "labelFont": "Liberation Sans", "labelColor": "#262626", "labelOffset": 6, "labelBaseline": "middle", "titleFontSize": 22, "titleFont": "Liberation Sans", "titleFontWeight": "normal", "titleColor": "#262626", "titleOrient": "right", "titleAnchor": "middle", "titlePadding": 4, "offset": 16, "gradientStrokeColor": "#262626", "gradientStrokeWidth": 0.7, "padding": 0, "encode": {"title": {"update": {"angle": {"value": -90}, "baseline": {"value": "top"}}}}}}
}
},
{
"data": {"name": "b"},
"mark": {"type": "point", "opacity": 0},
"encoding": {
"x": {"field": "e", "type": "quantitative", "scale": {"domain": [-0.5, 23.5], "nice": false, "zero": false}, "axis": {"orient": "top", "values": [0,3,6,9,12,15,18,21], "labels": false, "grid": false, "domain": false, "ticks": true, "tickSize": -5, "tickColor": "#262626", "title": null}},
"y": {"field": "s", "type": "quantitative", "scale": {"domain": [-0.5, 23.5], "nice": false, "zero": false, "reverse": true}, "axis": {"orient": "right", "values": [0,3,6,9,12,15,18,21], "labels": false, "grid": false, "domain": false, "ticks": true, "tickSize": -5, "tickColor": "#262626", "title": null}}
}
}
]
},
{
"width": 367, "height": 410,
"title": {"text": "c", "anchor": "start", "frame": "bounds", "dx": -21, "offset": -5, "fontSize": 22, "fontWeight": "bold", "font": "Liberation Sans", "color": "black"},
"resolve": {"scale": {"x": "independent", "y": "independent"}},
"layer": [
{
"data": {"name": "c"},
"mark": {"type": "rect"},
"encoding": {
"x": {"field": "e", "type": "ordinal", "scale": {"domain": [0,1,2,3,4,5,6,7,8,9,10,11,12,13,14,15,16,17,18,19,20,21,22,23], "paddingInner": 0, "paddingOuter": 0},
 "axis": {"title": null, "domain": false, "bandPosition": 0.5, "grid": true, "gridColor": "#262626", "gridOpacity": {"condition": {"test": "datum.value % 3 === 0", "value": 0.22}, "value": 0.1}, "ticks": true, "tickSize": -5, "tickColor": "#262626", "tickOpacity": {"condition": {"test": "datum.value % 3 === 0", "value": 1}, "value": 0}, "labelExpr": "datum.value % 3 === 0 ? ['06:00','09:00','08-Aug, 12:00','15:00','18:00','21:00','09-Aug, 00:00','03:00'][datum.value / 3] : ''", "labelAngle": -33, "labelAlign": "right", "labelBaseline": "middle", "labelOffset": 12, "labelPadding": 30, "labelFontSize": 25, "labelFont": "Liberation Sans", "labelColor": "#262626", "labelOverlap": false, "labelFlush": false, "zindex": 1}},
"y": {"field": "s", "type": "ordinal", "scale": {"domain": [0,1,2,3,4,5,6,7,8,9,10,11,12,13,14,15,16,17,18,19,20,21,22,23], "paddingInner": 0, "paddingOuter": 0},
 "axis": {"title": null, "domain": false, "bandPosition": 0.5, "grid": true, "gridColor": "#262626", "gridOpacity": {"condition": {"test": "datum.value % 3 === 0", "value": 0.22}, "value": 0.1}, "ticks": true, "tickSize": -5, "tickColor": "#262626", "tickOpacity": {"condition": {"test": "datum.value % 3 === 0", "value": 1}, "value": 0}, "labelExpr": "datum.value % 3 === 0 ? ['06:00','09:00','12:00','15:00','18:00','21:00','00:00','03:00'][datum.value / 3] : ''", "labelPadding": 16, "labelFontSize": 24, "labelFont": "Liberation Sans", "labelColor": "#262626", "labelOverlap": false, "zindex": 1}},
"color": {"field": "r", "type": "quantitative", "scale": {"domain": [0, 1], "range": ["#3E26A8","#4537D5","#484DF0","#4563FC","#327BFC","#2B91EF","#20A5E3","#08B5D0","#12BEB9","#33C79C","#5CCC75","#8FCA4E","#C8C129","#F0BA36","#FDC933","#F5E227","#F9FB15"]},
 "legend": {"title": "R²", "orient": "right", "direction": "vertical", "gradientLength": 410, "gradientThickness": 25, "values": [0,0.2,0.4,0.6,0.8,1], "format": ".1~f", "labelFontSize": 22, "labelFont": "Liberation Sans", "labelColor": "#262626", "labelOffset": 6, "labelBaseline": "middle", "titleFontSize": 22, "titleFont": "Liberation Sans", "titleFontWeight": "normal", "titleColor": "#262626", "titleOrient": "right", "titleAnchor": "middle", "titlePadding": 4, "offset": 16, "gradientStrokeColor": "#262626", "gradientStrokeWidth": 0.7, "padding": 0, "encode": {"title": {"update": {"angle": {"value": -90}, "baseline": {"value": "top"}}}}}}
}
},
{
"data": {"name": "c"},
"mark": {"type": "point", "opacity": 0},
"encoding": {
"x": {"field": "e", "type": "quantitative", "scale": {"domain": [-0.5, 23.5], "nice": false, "zero": false}, "axis": {"orient": "top", "values": [0,3,6,9,12,15,18,21], "labels": false, "grid": false, "domain": false, "ticks": true, "tickSize": -5, "tickColor": "#262626", "title": null}},
"y": {"field": "s", "type": "quantitative", "scale": {"domain": [-0.5, 23.5], "nice": false, "zero": false, "reverse": true}, "axis": {"orient": "right", "values": [0,3,6,9,12,15,18,21], "labels": false, "grid": false, "domain": false, "ticks": true, "tickSize": -5, "tickColor": "#262626", "title": null}}
}
}
]
}
]
}
